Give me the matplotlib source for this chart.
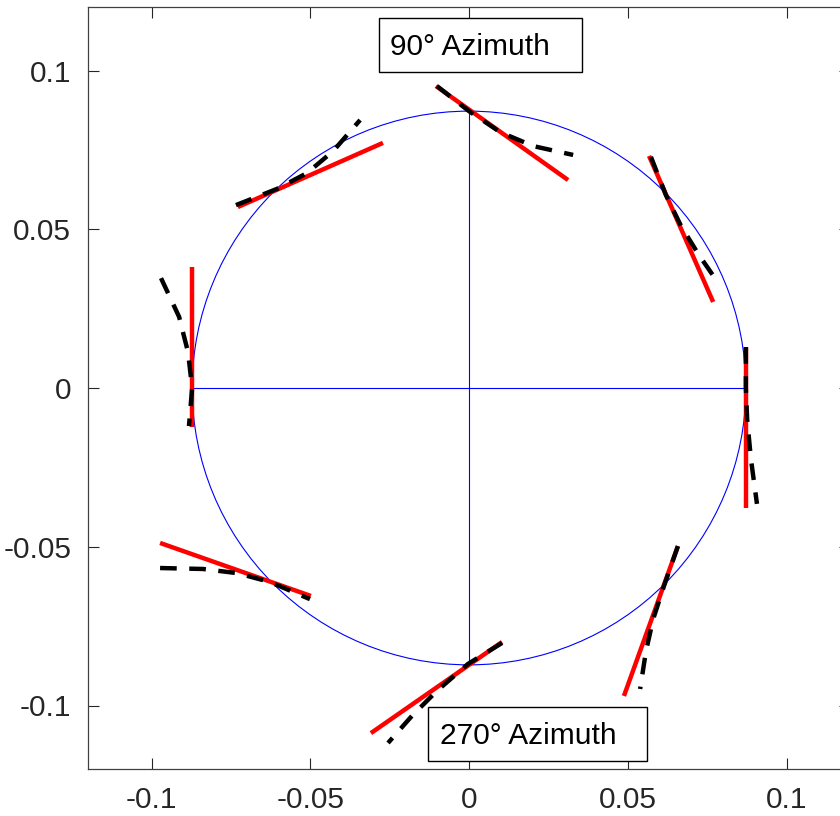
import numpy as np
import matplotlib
matplotlib.use("Agg")
import matplotlib.pyplot as plt
from matplotlib.patches import Circle, Rectangle

plt.rcParams['font.family'] = ['Liberation Sans', 'DejaVu Sans']
plt.rcParams['lines.scale_dashes'] = False

# Reference circle radius
radius = 0.0872

# Azimuths (degrees) of the eight stations around the circle
azimuths = [0, 45, 90, 135, 180, 225, 270, 315]

# Straight (red) segments: start/end coordinates per azimuth
red_x0 = [0.0872, 0.0567, -0.0104, -0.0728, -0.0872, -0.0973, 0.0104, 0.0658]
red_y0 = [0.0129, 0.0731, 0.0951, 0.0570, 0.0381, -0.0488, -0.0800, -0.0498]
red_x1 = [0.0872, 0.0769, 0.0312, -0.0271, -0.0872, -0.0498, -0.0309, 0.0488]
red_y1 = [-0.0378, 0.0271, 0.0655, 0.0772, -0.0123, -0.0655, -0.1087, -0.0970]

# Curved (black dashed) profiles per azimuth
curve_x = [
    [0.0872, 0.0872, 0.0876, 0.0888, 0.0907],
    [0.0573, 0.0620, 0.0668, 0.0724, 0.0787],
    [-0.0101, 0.0000, 0.0098, 0.0202, 0.0328],
    [-0.0734, -0.0605, -0.0510, -0.0428, -0.0343],
    [-0.0970, -0.0913, -0.0885, -0.0872, -0.0882],
    [-0.0973, -0.0838, -0.0731, -0.0627, -0.0501],
    [0.0104, -0.0003, -0.0101, -0.0180, -0.0255],
    [0.0658, 0.0614, 0.0580, 0.0557, 0.0539],
]
curve_y = [
    [0.0129, 0.0000, -0.0098, -0.0224, -0.0365],
    [0.0728, 0.0608, 0.0510, 0.0419, 0.0328],
    [0.0951, 0.0872, 0.0806, 0.0762, 0.0734],
    [0.0576, 0.0627, 0.0677, 0.0746, 0.0844],
    [0.0346, 0.0224, 0.0113, 0.0000, -0.0120],
    [-0.0567, -0.0570, -0.0583, -0.0611, -0.0665],
    [-0.0803, -0.0869, -0.0954, -0.1033, -0.1118],
    [-0.0498, -0.0624, -0.0728, -0.0831, -0.0948],
]

ticks = [-0.1, -0.05, 0, 0.05, 0.1]
tick_labels = ['-0.1', '-0.05', '0', '0.05', '0.1']

fig = plt.figure(figsize=(8.4, 8.16), dpi=100)
ax = fig.add_axes([88 / 840, 47 / 816, 762 / 840, 762 / 816])
ax.set_xlim(-0.12, 0.12)
ax.set_ylim(-0.12, 0.12)

# Circle with cross-hairs
ax.add_patch(Circle((0, 0), radius, fill=False, ec='#0000ff', lw=0.8, zorder=1))
ax.plot([-radius, radius], [0, 0], color='#0000ff', lw=0.8, zorder=1)
ax.plot([0, 0], [-radius, radius], color='#0000ff', lw=0.8, zorder=1)

for i in range(len(azimuths)):
    ax.plot([red_x0[i], red_x1[i]], [red_y0[i], red_y1[i]], color='#ff0000',
            lw=3.2, solid_capstyle='butt', zorder=2)
    ax.plot(curve_x[i], curve_y[i], color='black', lw=3.2,
            linestyle=(0, (12, 9)), dash_capstyle='butt', zorder=3)

# Annotation boxes
ax.add_patch(Rectangle((-0.02835, 0.0995), 0.06395, 0.0170, fc='white',
                       ec='black', lw=1.0, zorder=4))
ax.text(-0.0249, 0.1073, '90° Azimuth', fontsize=21.5, ha='left', va='center',
        zorder=5, color='black')
ax.add_patch(Rectangle((-0.0129, -0.1175), 0.0690, 0.0170, fc='white',
                       ec='black', lw=1.0, zorder=4))
ax.text(-0.0091, -0.1096, '270° Azimuth', fontsize=21.5, ha='left', va='center',
        zorder=5, color='black')

ax.set_xticks(ticks)
ax.set_xticklabels(tick_labels)
ax.set_yticks(ticks)
ax.set_yticklabels(tick_labels)
ax.tick_params(direction='in', length=8, width=0.8, colors='#262626',
               labelsize=21.5, top=True, right=True, pad=12)
for s in ax.spines.values():
    s.set_color('#404040')
    s.set_linewidth(0.9)

fig.savefig('out.png', dpi=100)
